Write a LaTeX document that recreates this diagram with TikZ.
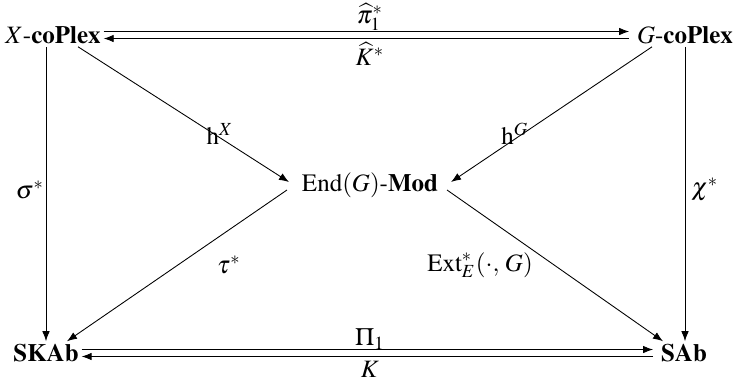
\documentclass[tikz,border=0pt]{standalone}
\usepackage[T1]{fontenc}
\usepackage{mathptmx}
\usetikzlibrary{arrows.meta}

\begin{document}
\begin{tikzpicture}[x=0.4pt, y=-0.4pt, >={Latex[length=4pt,width=3pt]},
  obj/.style={inner sep=1pt, font=\normalsize},
  lbl/.style={inner sep=0pt, font=\normalsize},
  edge/.style={->, line width=0.35pt, draw=black}
]
\useasboundingbox (0,0) rectangle (733,381);
% objects
\node[obj] (xcp) at (53,35) {$X$-\textbf{coPlex}};
\node[obj] (gcp) at (685,35) {$G$-\textbf{coPlex}};
\node[obj] (endm) at (370,185) {$\mathrm{End}(G)$-\textbf{Mod}};
\node[obj] (skab) at (46,353) {\textbf{SKAb}};
\node[obj] (sab) at (684,353) {\textbf{SAb}};
% horizontal pairs
\draw[edge] ([shift={(0,-3.5)}]xcp.east) -- ([shift={(-5,-3.5)}]gcp.west);
\draw[edge] ([shift={(-5,3.5)}]gcp.west) -- ([shift={(0,3.5)}]xcp.east);
\draw[edge] ([shift={(0,-3.5)}]skab.east) -- ([shift={(-5,-3.5)}]sab.west);
\draw[edge] ([shift={(-5,3.5)}]sab.west) -- ([shift={(0,3.5)}]skab.east);
% verticals
\draw[edge] (skab.north |- xcp.south) -- (skab.north);
\draw[edge] (gcp.south) -- (gcp.south |- sab.north);
% diagonals
\draw[edge] ([shift={(25,0)}]xcp.south) -- ([shift={(-10,-3)}]endm.west);
\draw[edge] ([shift={(-33,0)}]gcp.south) -- ([shift={(10,-3)}]endm.east);
\draw[edge] ([shift={(-12,5)}]endm.west) -- ([shift={(21,0)}]skab.north);
\draw[edge] ([shift={(6,5)}]endm.east) -- ([shift={(-21,0)}]sab.north);
% labels
\node[lbl] (lpi) at (370,17) {$\widehat{\pi}_1^*$};
\node[lbl] (lkh) at (370,54) {$\widehat{K}^*$};
\node[lbl] (lPi) at (370,339) {$\Pi_1$};
\node[lbl] (lk) at (370,369) {$K$};
\node[lbl] (lsig) at (30,190) {$\sigma^*$};
\node[lbl] (lchi) at (705,190) {$\chi^*$};
\node[lbl] (lhx) at (220,134) {$\mathrm{h}^X$};
\node[lbl] (lhg) at (515,134) {$\mathrm{h}^G$};
\node[lbl] (ltau) at (229,265) {$\tau^*$};
\node[lbl] (lext) at (480,265) {$\mathrm{Ext}^*_E(\cdot,\,G)$};
\end{tikzpicture}
\end{document}
